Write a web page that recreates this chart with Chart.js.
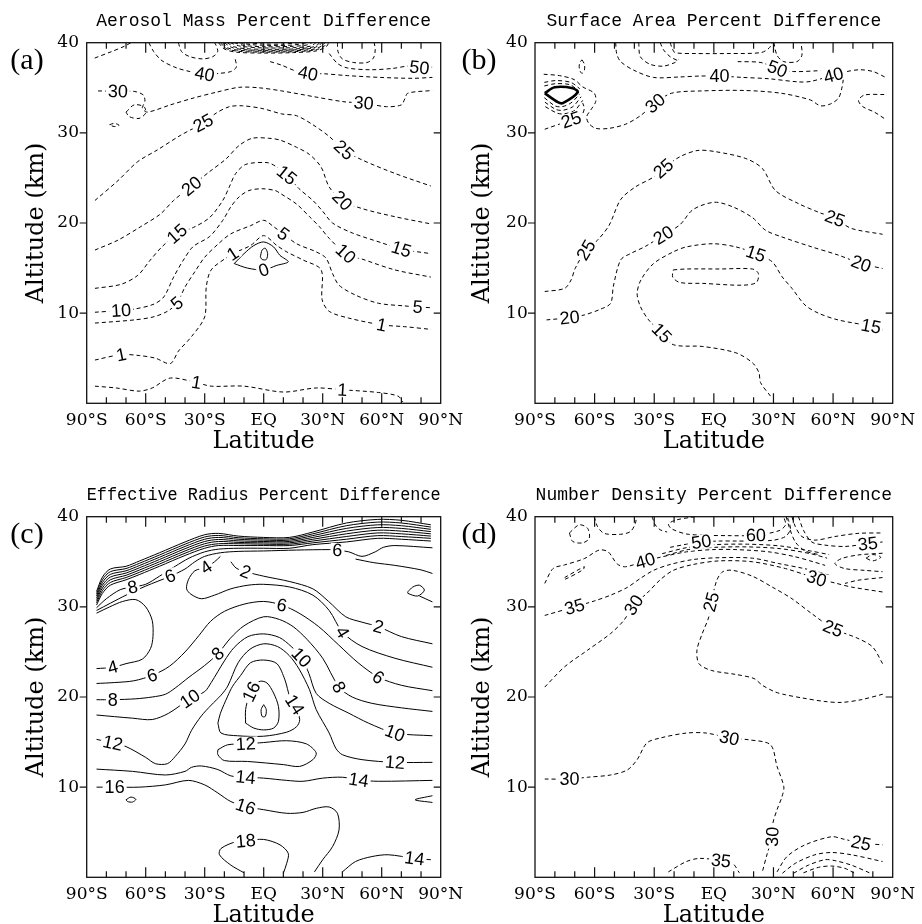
<!DOCTYPE html>
<html>
<head>
<meta charset="utf-8">
<title>Percent differences</title>
<script src="https://cdn.jsdelivr.net/npm/chart.js@4.4.1/dist/chart.umd.min.js"></script>
<style>
  html, body { margin: 0; padding: 0; background: #fff; overflow: hidden; }
  body { width: 922px; height: 924px; position: relative; }
  canvas { position: absolute; }
</style>
</head>
<body>
<canvas id="massChart" width="470" height="462" style="left:0;top:0"></canvas>
<canvas id="areaChart" width="467" height="462" style="left:455px;top:0"></canvas>
<canvas id="radiusChart" width="470" height="462" style="left:0;top:474px"></canvas>
<canvas id="numberChart" width="467" height="462" style="left:455px;top:474px"></canvas>
<script>
// axes
const latTickValues = [-90, -60, -30, 0, 30, 60, 90];
const latTickLabels = ['90°S', '60°S', '30°S', 'EQ', '30°N', '60°N', '90°N'];
const altTickValues = [0, 10, 20, 30, 40];
const altTickLabels = ['', '10', '20', '30', '40'];

// (a) aerosol mass, contours as [latitude, altitude km]
const massTopLeft = [[-85.9, 38.3], [-77.5, 39.0], [-70.9, 39.6], [-67.5, 40]];
const massBowlW = [[-43.4, 40], [-41.7, 39.0], [-37.5, 38.45], [-30.9, 38.2], [-25.9, 38.45], [-23.4, 39.0], [-24.2, 39.7], [-25, 40]];
const mass40W = [[-58.4, 40], [-55.9, 39.0], [-51.7, 38.0], [-44.2, 37.2], [-37.5, 36.8], [-30, 36.5], [-22.5, 36.6], [-16.7, 36.8], [-13.9, 37.3], [-14.5, 38.2]];
const massCap1 = [[-23, 40], [-20, 39.3], [-14, 38.95], [0, 38.85], [15, 38.9], [27, 39.1], [32, 39.6], [33, 40]];
const massCap2 = [[-22, 40], [-19, 39.35], [-13, 39.05], [0, 38.95], [15, 39.0], [26.5, 39.2], [31, 39.65], [32, 40]];
const massCap3 = [[-21, 40], [-18, 39.4], [-12, 39.15], [0, 39.05], [15, 39.1], [26, 39.3], [30, 39.7], [31, 40]];
const massCap4 = [[-20, 40], [-16.5, 39.5], [-11, 39.25], [0, 39.15], [15, 39.2], [25, 39.4], [28.5, 39.75], [29.5, 40]];
const massCap5 = [[-18.5, 40], [-15, 39.55], [-10, 39.35], [0, 39.27], [15, 39.3], [24.5, 39.5], [27.5, 39.8], [28.5, 40]];
const massCap6 = [[-17, 40], [-12, 39.62], [0, 39.42], [15, 39.45], [24, 39.62], [26.5, 40]];
const massCap7 = [[-15, 40], [-10, 39.7], [0, 39.55], [15, 39.6], [22, 39.75], [24.5, 40]];
const massCap8 = [[-12.5, 40], [-6, 39.78], [5, 39.7], [15, 39.74], [22, 40]];
const massCap9 = [[-9, 40], [0, 39.86], [10, 39.85], [18, 40]];
const massBowlE = [[37.5, 40], [37.8, 39.0], [40, 38.2], [45.8, 37.8], [52.5, 37.8], [55.8, 38.3], [56.7, 39.2], [56.2, 40]];
const mass50 = [[33.3, 38.8], [37.5, 37.7], [42.5, 37.2], [54.2, 37.0], [65.8, 37.15], [73.3, 37.4], [79.2, 37.25], [85.8, 37.3]];
const mass40E = [[3.3, 37.9], [9.2, 37.5], [15.8, 36.9], [22.5, 36.6], [30.8, 36.55], [42.5, 36.35], [59.2, 36.15], [75.8, 36.05], [85.8, 36.15]];
const mass30 = [[-84.2, 34.65], [-74.2, 34.6], [-65.9, 34.6], [-61.2, 34.2], [-60.4, 33.5], [-61.7, 32.75], [-59.2, 32.3], [-47.5, 33.1], [-35.9, 33.85], [-24.2, 34.5], [-12.5, 35.05], [-2.5, 35.0], [9.2, 34.65], [25.8, 34.0], [40.8, 33.45], [50.8, 33.3], [62.5, 32.9], [70, 33.1], [71.7, 33.75], [73.3, 34.4], [85.8, 34.7]];
const massLoop = [[-70, 32.3], [-65.9, 33.1], [-60.9, 32.9], [-60, 32.2], [-63.4, 31.6], [-68.4, 31.8], [-70, 32.3]];
const massDot = [[-78.4, 30.9], [-76, 31.05], [-73.5, 30.85], [-76, 30.7], [-78.4, 30.9]];
const mass25 = [[-85.8, 22.5], [-74.1, 24.7], [-64.1, 26.8], [-54.1, 28.1], [-42.5, 29.7], [-30.8, 31.1], [-24.1, 32.2], [-17.5, 32.9], [-10.8, 33.0], [-0.8, 32.7], [9.2, 32.1], [16.7, 31.9], [25, 30.9], [33.3, 29.6], [40.8, 28.1], [50, 27.0], [66.7, 25.5], [85, 24.1]];
const mass20 = [[-85.8, 17.0], [-74.1, 18.1], [-62.5, 19.6], [-52.5, 21.0], [-45.8, 22.5], [-36.7, 24.1], [-27.5, 25.7], [-19.2, 27.1], [-12.5, 28.6], [-5.8, 29.4], [2.5, 29.4], [8.3, 29.2], [16.7, 28.4], [23.3, 27.6], [29.2, 26.2], [33.3, 24.0], [40, 22.5], [50, 21.6], [66.7, 20.7], [85, 19.9]];
const mass15 = [[-85.8, 12.75], [-72.5, 13.2], [-64, 14.2], [-58, 15.8], [-52, 17.3], [-44.1, 18.8], [-35.8, 19.5], [-27.5, 20.6], [-20.8, 22.5], [-17.5, 24.0], [-14.2, 25.5], [-9.1, 26.5], [1.7, 26.7], [6, 26.3], [11.7, 25.3], [18, 23.8], [25, 22.5], [30, 21.3], [35, 20.0], [45, 18.9], [60, 17.8], [70, 17.1], [85, 16.6]];
const mass10 = [[-85.8, 10.1], [-72.5, 10.3], [-65.8, 10.45], [-55.8, 11.0], [-50.8, 11.8], [-45.8, 14.0], [-40.8, 15.9], [-35.8, 17.4], [-27.5, 18.5], [-20.8, 20.3], [-16.7, 21.8], [-12.5, 22.9], [-7.5, 23.6], [-0.8, 23.8], [5.9, 23.6], [8.3, 23.3], [16.7, 22.1], [23.3, 20.7], [28.3, 19.6], [33.3, 18.3], [41.7, 16.6], [50, 16.0], [66.7, 14.8], [85, 14.0]];
const mass5 = [[-85.8, 8.9], [-65.8, 9.25], [-55.8, 9.6], [-49, 10.2], [-44.1, 11.1], [-40, 12.9], [-35, 14.6], [-30, 16.2], [-23, 17.7], [-16.7, 18.8], [-6.7, 19.7], [0, 20.3], [5, 19.6], [10, 18.8], [16.7, 17.7], [26.7, 16.8], [31.7, 16.1], [35, 14.4], [38.3, 13.1], [46.7, 12.0], [58.3, 11.1], [71.7, 10.8], [78.3, 10.7], [85, 10.6]];
const mass1 = [[-85.8, 4.8], [-72.5, 5.4], [-63.3, 5.3], [-55, 5.0], [-47.5, 4.4], [-43.3, 5.8], [-36.7, 7.4], [-30, 9.6], [-29.2, 12.9], [-26.7, 14.8], [-18.3, 16.25], [-15.8, 16.6], [-6.7, 17.5], [0, 18.6], [6.7, 17.5], [11.7, 16.8], [20, 15.9], [29.2, 14.8], [29.7, 11.5], [33.3, 10.2], [43.3, 9.45], [60, 8.7], [71.7, 8.5], [85, 8.2]];
const mass1Low = [[-85.8, 1.9], [-75, 1.7], [-63.3, 1.35], [-56.7, 1.7], [-47.5, 2.8], [-34.2, 2.3], [-26.7, 1.9], [-10, 1.9], [10, 1.25], [26.7, 1.7], [40, 1.5], [58.3, 1.2], [68.3, 0.8], [70.8, 0.15]];
const mass0 = [[-15, 15.5], [-10, 16.6], [-5, 17.5], [0, 17.9], [5, 17.35], [8.3, 16.4], [12.5, 15.7], [6.7, 15.3], [0, 14.8], [-8.3, 15.0], [-15, 15.5]];
const mass0Inner = [[-1.7, 16.25], [-0.8, 17.0], [0.8, 17.2], [2, 16.6], [1.3, 15.95], [-0.8, 15.95], [-1.7, 16.25]];
const massLabels = [['40', -30, 36.5], ['40', 22.5, 36.6], ['50', 79.2, 37.25], ['30', -74.2, 34.6], ['30', 50.8, 33.3],
  ['25', -30.8, 31.1], ['25', 40.8, 28.1], ['20', -36.7, 24.1], ['20', 40, 22.5], ['15', -44.1, 18.8], ['15', 11.7, 25.3],
  ['15', 70, 17.1], ['10', -72.5, 10.3], ['10', 41.7, 16.6], ['5', -44.1, 11.1], ['5', 10, 18.8], ['5', 78.3, 10.7],
  ['1', -72.5, 5.4], ['1', -15.8, 16.6], ['1', 60, 8.7], ['1', -34.2, 2.3], ['1', 40, 1.5], ['0', 0, 14.8]];

// (b) surface area
const areaDiamond = [[-85.1, 34.4], [-80.1, 35.05], [-71, 34.95], [-68.5, 34.5], [-76, 33.3], [-78.5, 33.4], [-85.1, 34.4]];
const areaHalo1 = [[-85.3, 35.6], [-79.5, 35.8], [-72, 35.6], [-67.5, 34.9]];
const areaHalo2 = [[-85.3, 35.2], [-79.8, 35.45], [-72.5, 35.35], [-68.2, 34.7]];
const areaHalo3 = [[-85.3, 33.9], [-80, 33.0], [-76.5, 32.9], [-72, 33.3], [-67.5, 34.3]];
const areaHalo4 = [[-85, 33.4], [-79.5, 32.6], [-76, 32.5], [-71, 32.9], [-66.8, 34.0]];
const areaHalo5 = [[-84.8, 32.9], [-79, 32.2], [-75.5, 32.1], [-70, 32.5], [-66, 33.6]];
const area30 = [[-85.6, 36.5], [-77.7, 36.35], [-70.2, 35.9], [-66, 35.1], [-60.2, 34.4], [-59.4, 33.5], [-61.9, 32.55], [-64, 31.8], [-63, 31.07], [-59.4, 30.5], [-52.7, 30.5], [-44.4, 30.96], [-36.95, 31.9], [-29.5, 33.3], [-21.2, 34.4], [-6.2, 34.65], [15.4, 34.7], [33.65, 34.4], [48.6, 33.65], [53.6, 33.0], [58.6, 33.2], [62.7, 33.85], [64.4, 34.95], [65.2, 36.0]];
const area25Top = [[-85.1, 30.4], [-71.8, 31.45], [-66.5, 32.0], [-65.2, 32.7], [-66, 33.3]];
const areaEllipse = [[-66.4, 38.1], [-65.1, 37.6], [-65.2, 36.9], [-66.4, 36.6], [-67.6, 37.0], [-67.6, 37.7], [-66.4, 38.1]];
const area40 = [[-49.4, 40], [-48.9, 38.8], [-46.9, 37.9], [-40.3, 36.95], [-30.4, 36.15], [-17.1, 36.2], [-7.1, 36.3], [2.8, 36.3], [14.4, 36.15], [27.7, 36.0], [42.6, 35.65], [48.6, 35.7], [60.2, 36.4], [66.9, 36.8], [73.5, 37.0], [80.2, 36.8], [86, 36.2]];
const areaBowl1 = [[-37.8, 40], [-37, 38.45], [-32, 37.6], [-25.4, 37.4], [-19.6, 37.8], [-17.9, 38.1]];
const areaBowl2 = [[-27, 40], [-25.3, 39.2], [-22, 38.45], [-17.8, 37.97]];
const areaFlat = [[-22, 40], [-21, 39.4], [-19.5, 38.9], [-9.5, 38.8], [7.1, 38.8], [23.7, 38.9], [27.8, 39.4], [29.5, 40]];
const area50 = [[12, 37.9], [23.7, 37.8], [32, 37.1], [40.3, 36.8], [53.6, 36.9]];
const areaBowlE = [[30.2, 40], [31.8, 38.6], [35.2, 37.9], [41.8, 37.9], [44.3, 38.6], [43.9, 40]];
const areaEdgeE = [[85.7, 34.25], [75.8, 34.2], [72.8, 33.6], [75, 32.9], [80.8, 32.3], [85.7, 31.6]];
const area25 = [[-85.1, 12.4], [-75.1, 12.75], [-71.8, 13.7], [-69.8, 14.95], [-64.3, 17.0], [-58.5, 18.1], [-52.7, 19.75], [-46.9, 22.6], [-39.5, 24.0], [-30.3, 25.1], [-25.4, 26.05], [-17.1, 27.35], [-8, 28.05], [1.2, 27.9], [16.1, 27.15], [24.4, 26.05], [31, 23.6], [42.6, 22.15], [52.6, 21.2], [60.9, 20.5], [69.2, 19.4], [84.9, 18.75]];
const area20 = [[-84.2, 9.25], [-72.6, 9.5], [-65.2, 9.8], [-56.9, 10.45], [-51.9, 11.1], [-50.6, 12.95], [-46.9, 15.9], [-42, 16.6], [-34.5, 17.4], [-25.4, 18.65], [-17.1, 19.8], [-10.4, 21.5], [0.3, 22.3], [9.45, 21.8], [19.4, 20.6], [26, 19.2], [34.3, 18.45], [49.25, 17.35], [62.5, 16.45], [74.1, 15.5], [84.9, 14.95]];
const area15 = [[28.5, 0.8], [23.5, 2.3], [22.7, 3.4], [19.4, 4.5], [11.1, 5.6], [-5.5, 6.3], [-20.4, 6.5], [-26.2, 7.8], [-32.8, 9.25], [-37, 10.75], [-38.6, 12.2], [-36.65, 13.7], [-30.35, 15.5], [-20.4, 16.8], [-13.8, 17.35], [-0.5, 17.7], [11.1, 17.35], [21.1, 16.6], [29.35, 15.7], [34.3, 14.05], [39.3, 12.75], [45.9, 10.9], [52.6, 10.0], [62.5, 9.25], [79.1, 8.55], [84.9, 8.15]];
const areaLoop = [[-20.4, 14.8], [-13.8, 14.9], [2.8, 14.9], [19.4, 14.9], [22.4, 14.4], [21.4, 13.4], [14.4, 13.1], [-5.5, 13.3], [-17.1, 13.4], [-20.7, 14.0], [-20.4, 14.8]];
const areaLabels = [['40', 2.8, 36.3], ['40', 60.2, 36.4], ['50', 32, 37.1], ['30', -29.5, 33.3], ['25', -71.8, 31.45],
  ['25', -64.3, 17.0], ['25', -25.4, 26.05], ['25', 60.9, 20.5], ['20', -72.6, 9.5], ['20', -25.4, 18.65], ['20', 74.1, 15.5],
  ['15', -26.2, 7.8], ['15', 21.1, 16.6], ['15', 79.1, 8.55]];

// (c) effective radius
const radiusBandLat = [-85, -82, -78, -70, -63, -53, -40, -30, -23, -13, 0, 13, 25, 42, 58, 70, 85];
const radiusBand1 = [31.7, 33.3, 34.2, 34.5, 35.1, 36.0, 37.2, 38.0, 38.15, 37.85, 37.7, 37.7, 38.3, 39.3, 39.7, 39.6, 39.1];
const radiusBand2 = [31.45, 33.0, 33.9, 34.25, 34.85, 35.75, 36.95, 37.75, 37.92, 37.67, 37.55, 37.55, 38.1, 39.0, 39.4, 39.3, 38.85];
const radiusBand3 = [31.2, 32.7, 33.6, 34.0, 34.6, 35.5, 36.7, 37.5, 37.7, 37.5, 37.4, 37.4, 37.9, 38.7, 39.1, 39.0, 38.6];
const radiusBand4 = [30.95, 32.4, 33.3, 33.75, 34.35, 35.25, 36.45, 37.25, 37.47, 37.32, 37.25, 37.25, 37.7, 38.4, 38.8, 38.7, 38.35];
const radiusBand5 = [30.7, 32.1, 33.0, 33.5, 34.1, 35.0, 36.2, 37.0, 37.25, 37.15, 37.1, 37.1, 37.5, 38.1, 38.5, 38.4, 38.1];
const radiusBand6 = [30.45, 31.8, 32.7, 33.25, 33.85, 34.75, 35.95, 36.75, 37.0, 37.0, 36.95, 36.95, 37.3, 37.8, 38.2, 38.1, 37.85];
const radiusBand7 = [30.2, 31.5, 32.4, 33.0, 33.6, 34.5, 35.7, 36.5, 36.8, 36.8, 36.8, 36.8, 37.1, 37.5, 37.9, 37.8, 37.6];
const radius8Band = [[-85, 29.9], [-80, 30.9], [-73, 31.9], [-66.7, 32.2], [-60, 32.5], [-53, 33.4], [-45, 34.5], [-38, 35.4], [-30, 36.1], [-23, 36.4], [-13, 36.5], [0, 36.5], [13, 36.5], [25, 36.9], [42, 37.2], [58, 37.6], [70, 37.5], [85, 37.3]];
const radius6Band = [[-85, 29.6], [-78, 30.4], [-70, 31.3], [-60, 32.3], [-47.5, 33.4], [-40, 34.2], [-35, 35.0], [-30, 35.6], [-22, 36.0], [-13, 36.15], [0, 36.2], [16.7, 36.3], [33.3, 36.35], [37.5, 36.3], [43.3, 36.1], [50, 35.6], [56.7, 36.1], [60.8, 36.6], [66.7, 36.8], [85.8, 36.55]];
const radius4 = [[-22, 35.6], [-25, 35.0], [-29.2, 34.4], [-35, 34.0], [-38.3, 33.0], [-39.2, 32.0], [-37, 31.4], [-31.7, 30.9], [-25, 31.3], [-16.7, 32.0], [-8, 32.4], [0, 32.5], [13.3, 32.2], [25, 31.3], [33.3, 29.6], [40, 27.2], [50, 25.6], [66.7, 24.3], [85.8, 23.3]];
const radius2 = [[-16.7, 35.0], [-14, 34.3], [-9.2, 33.9], [0, 33.4], [13.3, 32.8], [25, 32.0], [33, 30.6], [41.7, 28.9], [50, 28.3], [58.3, 27.8], [70, 26.7], [85.8, 25.9]];
const radiusEdge = [[46.7, 35.3], [56, 34.9], [66.7, 34.6], [80, 34.1], [85.8, 33.7]];
const radiusQ = [[73.3, 31.67], [75.8, 32.2], [79.2, 32.4], [81.7, 31.85], [78.3, 31.2], [73.3, 31.5], [73.3, 31.67]];
const radiusQTail = [[79.2, 31.2], [85.8, 30.55]];
const radius4W = [[-85, 29.3], [-78.3, 30.0], [-71.7, 30.6], [-65, 30.8], [-60, 30.0], [-56.7, 28.5], [-56.3, 26.7], [-57.5, 25.4], [-61.7, 24.2], [-70, 23.7], [-76.7, 23.3], [-85, 23.15]];
const radius6 = [[-85, 21.5], [-76, 21.6], [-66, 21.8], [-56.7, 22.4], [-48, 23.4], [-40, 25.0], [-33, 26.8], [-27, 28.4], [-20, 29.5], [-10, 30.3], [0, 30.6], [9.2, 30.2], [18, 29.3], [28, 27.8], [38, 25.8], [48, 23.8], [58.3, 22.2], [70, 21.3], [85.8, 20.7]];
const radius8 = [[-85, 19.7], [-76.7, 19.7], [-65, 19.8], [-56.7, 20.0], [-50, 20.3], [-45, 21.0], [-38, 22.2], [-30, 23.5], [-23.3, 24.8], [-17, 26.5], [-10, 27.9], [0, 28.9], [8, 28.6], [15, 27.8], [22, 26.4], [30, 24.3], [38.3, 21.1], [45, 20.0], [55, 19.3], [70, 18.8], [85.8, 18.4]];
const radius10 = [[-85, 18.0], [-66.7, 17.65], [-56.7, 17.5], [-48.3, 18.2], [-37.5, 19.8], [-30, 20.6], [-26.7, 21.6], [-20, 24.0], [-15, 25.5], [-8, 26.7], [0, 27.0], [8, 26.6], [14, 25.6], [19.2, 24.4], [23, 22.6], [26.7, 20.4], [33.3, 19.3], [43.3, 18.2], [53.3, 17.1], [66.7, 16.0], [85.8, 15.7]];
const radius12 = [[-85, 15.3], [-76.7, 14.9], [-70, 14.5], [-60, 13.3], [-55, 12.6], [-49, 12.6], [-45, 13.4], [-40, 14.8], [-36.7, 16.3], [-31.7, 17.9], [-26.7, 19.1], [-21.7, 20.2], [-18.3, 21.2], [-13, 23.8], [-7, 25.3], [0, 25.9], [7, 25.6], [13, 24.6], [18, 23.1], [23.3, 20.8], [26.7, 18.6], [33.3, 16.0], [36.7, 14.3], [40, 13.6], [50, 13.05], [66.7, 12.75], [85.8, 12.75]];
const radius14 = [[-23.3, 17.1], [-22, 18.2], [-18.3, 20.1], [-15.8, 21.2], [-11.7, 22.4], [-6.7, 23.8], [0, 24.1], [6.7, 23.7], [10.8, 21.9], [13.3, 20.0], [15.8, 19.15], [18.3, 17.5], [16.7, 16.7], [11.7, 16.1], [0, 15.65], [-13.3, 15.7], [-21.7, 16.0], [-23.3, 17.1]];
const radius16 = [[-9.2, 17.1], [-5, 16.55], [0, 16.35], [5, 16.55], [7.5, 17.3], [7.5, 18.95], [5, 20.45], [1.7, 21.55], [-1.7, 21.75], [-5, 21.2], [-7.5, 20.05], [-9.2, 18.6], [-9.2, 17.1]];
const radius16Dot = [[0, 19.15], [1.3, 18.6], [0.8, 17.85], [-0.8, 17.85], [-1.3, 18.6], [0, 19.15]];
const radius12Inner = [[-23.3, 14.15], [-18.3, 14.7], [-9.2, 14.8], [0, 14.95], [11.7, 15.15], [21.7, 14.8], [26.7, 13.8], [25, 13.05], [18.3, 12.3], [10, 12.5], [-8.3, 12.85], [-20, 12.95], [-23.3, 13.6], [-23.3, 14.15]];
const radius14Low = [[-85, 12.0], [-66.7, 11.75], [-50, 11.35], [-40, 11.75], [-36.7, 12.2], [-31.7, 12.35], [-23.3, 11.95], [-16.7, 11.25], [-9.2, 11.1], [0, 11.0], [11.7, 10.75], [20, 10.65], [30, 11.0], [40, 11.1], [48.3, 10.8], [58.3, 10.65], [85.8, 10.75]];
const radius16Low = [[-85, 10.0], [-75.8, 10.0], [-63.3, 10.0], [-50, 10.25], [-38.3, 10.75], [-30, 10.25], [-23.3, 9.35], [-16.7, 8.4], [-9.2, 7.85], [0, 7.5], [11.7, 7.1], [20, 7.2], [26.7, 7.65], [33.3, 7.8], [37.5, 7.1], [38.3, 5.25], [35, 3.4], [30, 1.95], [25.8, 0.6]];
const radius18 = [[-10, 0.5], [-16.7, 1.35], [-22.5, 2.5], [-21.7, 3.2], [-14.2, 3.95], [-9.2, 4.05], [0, 4.2], [8.3, 3.6], [12.5, 2.65], [11.7, 1.55], [10, 0.45]];
const radius14Base = [[40, 0.6], [46.7, 1.75], [55, 2.3], [63.3, 2.5], [76.7, 2.1], [85, 1.95]];
const radiusSpeck = [[-70, 8.6], [-67.5, 8.9], [-65, 8.65], [-66.7, 8.35], [-69.2, 8.4], [-70, 8.6]];
const radiusWedge = [[85.8, 9.05], [77, 8.6], [85.8, 8.3]];
const radiusLabels = [['8', -66.7, 32.2], ['6', -47.5, 33.4], ['4', -29.2, 34.4], ['2', -9.2, 33.9], ['6', 37.5, 36.3],
  ['2', 58.3, 27.8], ['4', 40, 27.2], ['6', 9.2, 30.2], ['6', -56.7, 22.4], ['6', 58.3, 22.2], ['4', -76.7, 23.3],
  ['8', -76.7, 19.7], ['8', -23.3, 24.8], ['8', 38.3, 21.1], ['10', -37.5, 19.8], ['10', 19.2, 24.4], ['10', 66.7, 16.0],
  ['12', -76.7, 14.9], ['12', 66.7, 12.75], ['12', -9.2, 14.8], ['14', 15.8, 19.15], ['16', -6.3, 20.6], ['14', -9.2, 11.1],
  ['14', 48.3, 10.8], ['16', -75.8, 10.0], ['16', -9.2, 7.85], ['18', -9.2, 4.05], ['14', 76.7, 2.1]];

// (d) number density
const numberTopLoop = [[-72.7, 38.2], [-67.7, 39.1], [-63.5, 38.7], [-62.7, 37.6], [-66, 37.1], [-71, 37.25], [-72.7, 38.2]];
const numberBowlA = [[-60.2, 40], [-58.5, 38.9], [-55.2, 38.15], [-46.9, 38.05], [-42, 38.35], [-39.5, 39.25], [-39, 40]];
const numberBowlB = [[-31.1, 40], [-29.5, 39.1], [-27, 38.55], [-23.5, 38.3]];
const number60 = [[-9.5, 40], [-18.7, 39.65], [-22.8, 39.2], [-21.2, 38.65], [-12.9, 38.05], [7.1, 37.9], [21.2, 37.95], [32.8, 38.45], [36.1, 39.1], [35.3, 39.9]];
const number50 = [[-22, 36.6], [-13.8, 36.95], [-6.3, 37.2], [2.8, 37.3], [11.1, 37.3], [21.1, 37.3], [30.2, 37.4], [36, 37.8], [38.5, 38.6], [37.6, 39.6], [36.8, 40]];
const numberBand1 = [[-26, 35.9], [-12.9, 36.6], [0.4, 36.9], [17, 36.95], [33.6, 36.75], [48.6, 36.2], [58, 35.8]];
const numberBand2 = [[-24, 35.7], [-12.9, 36.35], [0.4, 36.6], [17, 36.65], [33.6, 36.45], [48.6, 35.9], [57, 35.4]];
const number40 = [[-85.1, 32.6], [-80.9, 34.25], [-75.1, 34.65], [-65.2, 35.35], [-57.7, 36.3], [-53.2, 36.1], [-48.6, 34.75], [-44.4, 34.45], [-34.5, 35.1], [-27, 35.5], [-13.8, 36.1], [-0.5, 36.35], [11.1, 36.35], [27.7, 36.1], [41, 35.55], [50, 35.0], [56, 34.6]];
const number35 = [[-85.1, 29.05], [-70.1, 30.0], [-60.2, 30.65], [-51.9, 31.3], [-43.6, 32.15], [-37, 33.15], [-30.35, 34.05], [-22, 34.7], [-10.4, 35.25], [2.8, 35.45], [19.4, 35.4], [32.7, 34.8], [44.3, 34.3], [52, 33.9], [58, 33.5]];
const number30 = [[-85.1, 21.1], [-75.1, 23.35], [-63.5, 25.2], [-51.9, 27.05], [-45.3, 28.5], [-40.3, 30.2], [-33.7, 31.5], [-27, 33.0], [-20.4, 34.05], [-10.4, 34.7], [2.8, 35.1], [19.4, 35.0], [36, 34.25], [51.7, 33.15], [60.9, 32.65], [69.2, 32.2], [84.9, 31.65]];
const numberSliver = [[-75.1, 33.25], [-65.2, 34.45], [-66, 34.1], [-75, 33.05], [-75.1, 33.25]];
const numberR0 = [[36.4, 40], [38, 38.8], [41, 37.2], [46, 36.2], [52.6, 35.8]];
const numberR1 = [[39.3, 40], [41, 38.9], [44.3, 37.8], [50.9, 37.4], [60.9, 37.8], [72.5, 38.15], [84.9, 38.2]];
const numberR2 = [[42.6, 40], [45.1, 38.5], [49.25, 37.2], [55.9, 36.85], [66, 36.7], [77.5, 37.0], [84.9, 37.2]];
const numberR3 = [[84.9, 35.95], [72.5, 35.75], [64.2, 35.35], [60.9, 34.8], [65.8, 34.25], [75.8, 34.05], [84.9, 33.9]];
const numberR4 = [[84.9, 33.25], [72.5, 32.95], [66, 32.6]];
const numberScribble = [[76.6, 35.4], [80, 35.8], [84, 35.5], [80, 35.1], [76.6, 35.4]];
const number25 = [[84.9, 23.7], [79.9, 25.55], [72.5, 26.5], [60, 27.6], [49.25, 29.25], [39.3, 30.9], [29.35, 32.2], [19.4, 33.4], [9.45, 34.05], [4.5, 33.9], [1.5, 32.95], [-1.3, 30.55], [-2.5, 28.9], [-5.8, 27.05], [-8.5, 25.2], [-7.5, 23.7], [-1.3, 22.95], [11.1, 22.5], [20.2, 22.05], [24.4, 21.3], [31, 20.55], [36, 20.25], [44.3, 19.9], [55.9, 19.5], [64.2, 19.4], [74.1, 19.7], [85.7, 20.35]];
const number30Low = [[-85.1, 10.9], [-72.6, 10.9], [-63.5, 11.1], [-51.9, 11.35], [-43.6, 11.9], [-38.6, 13.05], [-33.7, 14.9], [-27, 15.45], [-13.8, 16.0], [-3.8, 16.0], [7.8, 15.45], [17.7, 15.25], [28.5, 14.7], [31.8, 12.3], [35.2, 10.05], [34.3, 8.95], [31.8, 7.5], [29.7, 6.0], [29.4, 4.5], [26.9, 2.65], [24.4, 0.6]];
const number35Low = [[-22.9, 0.6], [-13.8, 1.75], [-7.1, 2.1], [3.6, 1.85], [9.45, 1.55], [12.8, 0.5]];
const number25a = [[31.8, 0.6], [36.8, 2.3], [45.9, 3.6], [59.2, 4.5], [65, 4.25], [74.1, 3.8], [84.9, 3.6]];
const number25b = [[34.5, 0.45], [41, 1.55], [50.9, 2.5], [59.2, 2.75], [69.2, 2.5], [84.9, 1.75]];
const number25c = [[40.1, 0.45], [47.6, 1.35], [55.9, 1.95], [60.9, 1.85], [69.2, 1.35], [78.3, 0.5]];
const number25d = [[45.1, 0.5], [52.6, 1.1], [59.2, 1.25], [65.8, 1.0], [70.8, 0.45]];
const numberLabels = [['60', 21.2, 37.95], ['50', -6.3, 37.2], ['40', -34.5, 35.1], ['35', 77.5, 37.0], ['35', -70.1, 30.0],
  ['30', -40.3, 30.2], ['30', 51.7, 33.15], ['25', -1.3, 30.55], ['25', 60, 27.6], ['30', -72.6, 10.9], ['30', 7.8, 15.45],
  ['30', 29.4, 4.5], ['35', 3.6, 1.85], ['25', 74.1, 3.8]];

function bandLine(alts) {
  return alts.map((a, i) => [radiusBandLat[i], a]);
}

function toXY(pts) {
  return pts.map(([x, y]) => ({ x, y }));
}

// angle of the contour segment closest to a label, kept upright
function nearestAngle(chart, px, py) {
  let best = 0, bestD = Infinity;
  chart.data.datasets.forEach((ds, i) => {
    const els = chart.getDatasetMeta(i).data;
    for (let k = 0; k < els.length - 1; k++) {
      const ax = els[k].x, ay = els[k].y, bx = els[k + 1].x, by = els[k + 1].y;
      const dx = bx - ax, dy = by - ay;
      const len2 = dx * dx + dy * dy || 1;
      let t = ((px - ax) * dx + (py - ay) * dy) / len2;
      t = Math.max(0, Math.min(1, t));
      const qx = ax + t * dx - px, qy = ay + t * dy - py;
      const d = qx * qx + qy * qy;
      if (d < bestD) { bestD = d; best = Math.atan2(dy, dx); }
    }
  });
  if (best > Math.PI / 2) best -= Math.PI;
  if (best < -Math.PI / 2) best += Math.PI;
  return best;
}

function labelPlugin(items) {
  return {
    id: 'contourLabels',
    afterDatasetsDraw(chart) {
      const { ctx, scales: { x, y } } = chart;
      ctx.save();
      ctx.font = '18px "Liberation Sans", Arial, sans-serif';
      ctx.textAlign = 'center';
      ctx.textBaseline = 'middle';
      for (const [text, lat, alt] of items) {
        const px = x.getPixelForValue(lat), py = y.getPixelForValue(alt);
        const ang = nearestAngle(chart, px, py);
        const w = ctx.measureText(text).width + 4;
        ctx.save();
        ctx.translate(px, py);
        ctx.rotate(ang);
        ctx.fillStyle = '#fff';
        ctx.fillRect(-w / 2, -7, w, 14);
        ctx.fillStyle = '#000';
        ctx.fillText(text, 0, 1);
        ctx.restore();
      }
      ctx.restore();
    }
  };
}

function framePlugin(tag, tagX) {
  return {
    id: 'frame',
    afterDraw(chart) {
      const { ctx, chartArea: a, scales: { x, y } } = chart;
      ctx.save();
      ctx.strokeStyle = '#111';
      ctx.lineWidth = 1.3;
      ctx.strokeRect(a.left, a.top, a.right - a.left, a.bottom - a.top);
      ctx.lineWidth = 1.2;
      ctx.beginPath();
      for (let lat = -80; lat <= 80; lat += 10) {
        const px = x.getPixelForValue(lat);
        const len = lat % 30 === 0 ? 10 : 6;
        ctx.moveTo(px, a.bottom); ctx.lineTo(px, a.bottom - len);
        ctx.moveTo(px, a.top); ctx.lineTo(px, a.top + len);
      }
      for (const alt of altTickValues.slice(1, -1)) {
        const py = y.getPixelForValue(alt);
        ctx.moveTo(a.left - 7, py); ctx.lineTo(a.left, py);
        ctx.moveTo(a.right - 7, py); ctx.lineTo(a.right, py);
      }
      ctx.stroke();
      ctx.fillStyle = '#000';
      ctx.font = '30px "Liberation Serif", serif';
      ctx.textAlign = 'center';
      ctx.textBaseline = 'middle';
      ctx.fillText(tag, tagX, 61);
      ctx.restore();
    }
  };
}

function drawPanel(id, title, tag, lines, labels, geo) {
  new Chart(document.getElementById(id), {
    type: 'scatter',
    data: {
      datasets: lines.map(([pts, style]) => ({
        data: toXY(pts),
        showLine: true,
        pointRadius: 0,
        pointHoverRadius: 0,
        borderColor: '#000',
        borderWidth: style === 'bold' ? 2.6 : 1,
        borderDash: style === 'dash' ? [4, 3] : [],
        tension: 0.3,
        fill: false
      }))
    },
    options: {
      responsive: false,
      animation: false,
      events: [],
      layout: { padding: { left: 0, top: 10, right: geo.right, bottom: 0 } },
      plugins: {
        legend: { display: false },
        tooltip: { enabled: false },
        title: {
          display: true, text: title, fullSize: false, color: '#000',
          font: { family: '"Liberation Mono", monospace', size: 18, weight: 'normal' },
          padding: { top: 0, bottom: 11.1 }
        }
      },
      scales: {
        x: {
          type: 'linear', min: -90, max: 90,
          afterFit: (s) => { s.height = 58.7; },
          grid: { display: false, drawTicks: false },
          border: { display: false },
          ticks: {
            stepSize: 30, autoSkip: false, maxRotation: 0, padding: 6.8, color: '#000',
            font: { family: '"DejaVu Serif", serif', size: 17 },
            callback: (v) => latTickLabels[latTickValues.indexOf(v)]
          },
          title: {
            display: true, text: 'Latitude', color: '#000',
            font: { family: '"DejaVu Serif", serif', size: 24 },
            padding: { top: 0, bottom: 5.6 }
          }
        },
        y: {
          type: 'linear', min: 0, max: 40,
          afterFit: (s) => { s.width = geo.yWidth; },
          grid: { display: false, drawTicks: false },
          border: { display: false },
          ticks: {
            stepSize: 10, padding: geo.yTickPad, color: '#000',
            font: { family: '"DejaVu Serif", serif', size: 17 },
            callback: (v) => altTickLabels[altTickValues.indexOf(v)]
          },
          title: {
            display: true, text: 'Altitude (km)', color: '#000',
            font: { family: '"DejaVu Serif", serif', size: 24 },
            padding: { top: geo.yTitlePad, bottom: 0 }
          }
        }
      }
    },
    plugins: [labelPlugin(labels), framePlugin(tag, geo.tagX)]
  });
}

const leftGeo = { right: 23.3, yWidth: 86.7, yTickPad: 7.7, yTitlePad: 22.6, tagX: 27 };
const rightGeo = { right: 25, yWidth: 80, yTickPad: 7.3, yTitlePad: 13.6, tagX: 24 };

drawPanel('massChart', 'Aerosol Mass Percent Difference', '(a)', [
  [massTopLeft, 'dash'], [massBowlW, 'dash'], [mass40W, 'dash'],
  [massCap1, 'dash'], [massCap2, 'dash'], [massCap3, 'dash'], [massCap4, 'dash'], [massCap5, 'dash'], [massCap6, 'dash'],
  [massCap7, 'dash'], [massCap8, 'dash'], [massCap9, 'dash'],
  [massBowlE, 'dash'], [mass50, 'dash'], [mass40E, 'dash'], [mass30, 'dash'], [massLoop, 'dash'], [massDot, 'dash'],
  [mass25, 'dash'], [mass20, 'dash'], [mass15, 'dash'], [mass10, 'dash'], [mass5, 'dash'], [mass1, 'dash'], [mass1Low, 'dash'],
  [mass0, 'solid'], [mass0Inner, 'solid']
], massLabels, leftGeo);

drawPanel('areaChart', 'Surface Area Percent Difference', '(b)', [
  [areaDiamond, 'bold'], [areaHalo1, 'dash'], [areaHalo2, 'dash'], [areaHalo3, 'dash'], [areaHalo4, 'dash'], [areaHalo5, 'dash'],
  [area30, 'dash'], [area25Top, 'dash'], [areaEllipse, 'dash'], [area40, 'dash'], [areaBowl1, 'dash'], [areaBowl2, 'dash'],
  [areaFlat, 'dash'], [area50, 'dash'], [areaBowlE, 'dash'], [areaEdgeE, 'dash'],
  [area25, 'dash'], [area20, 'dash'], [area15, 'dash'], [areaLoop, 'dash']
], areaLabels, rightGeo);

drawPanel('radiusChart', 'Effective Radius Percent Difference', '(c)', [
  [bandLine(radiusBand1), 'solid'], [bandLine(radiusBand2), 'solid'], [bandLine(radiusBand3), 'solid'], [bandLine(radiusBand4), 'solid'],
  [bandLine(radiusBand5), 'solid'], [bandLine(radiusBand6), 'solid'], [bandLine(radiusBand7), 'solid'],
  [radius8Band, 'solid'], [radius6Band, 'solid'], [radius4, 'solid'], [radius2, 'solid'], [radiusEdge, 'solid'],
  [radiusQ, 'solid'], [radiusQTail, 'solid'], [radius4W, 'solid'], [radius6, 'solid'], [radius8, 'solid'], [radius10, 'solid'],
  [radius12, 'solid'], [radius14, 'solid'], [radius16, 'solid'], [radius16Dot, 'solid'], [radius12Inner, 'solid'],
  [radius14Low, 'solid'], [radius16Low, 'solid'], [radius18, 'solid'], [radius14Base, 'solid'], [radiusSpeck, 'solid'], [radiusWedge, 'solid']
], radiusLabels, leftGeo);

drawPanel('numberChart', 'Number Density Percent Difference', '(d)', [
  [numberTopLoop, 'dash'], [numberBowlA, 'dash'], [numberBowlB, 'dash'], [number60, 'dash'], [number50, 'dash'],
  [numberBand1, 'dash'], [numberBand2, 'dash'], [number40, 'dash'], [number35, 'dash'], [number30, 'dash'], [numberSliver, 'dash'],
  [numberR0, 'dash'], [numberR1, 'dash'], [numberR2, 'dash'], [numberR3, 'dash'], [numberR4, 'dash'], [numberScribble, 'dash'],
  [number25, 'dash'], [number30Low, 'dash'], [number35Low, 'dash'],
  [number25a, 'dash'], [number25b, 'dash'], [number25c, 'dash'], [number25d, 'dash']
], numberLabels, rightGeo);
</script>
</body>
</html>
